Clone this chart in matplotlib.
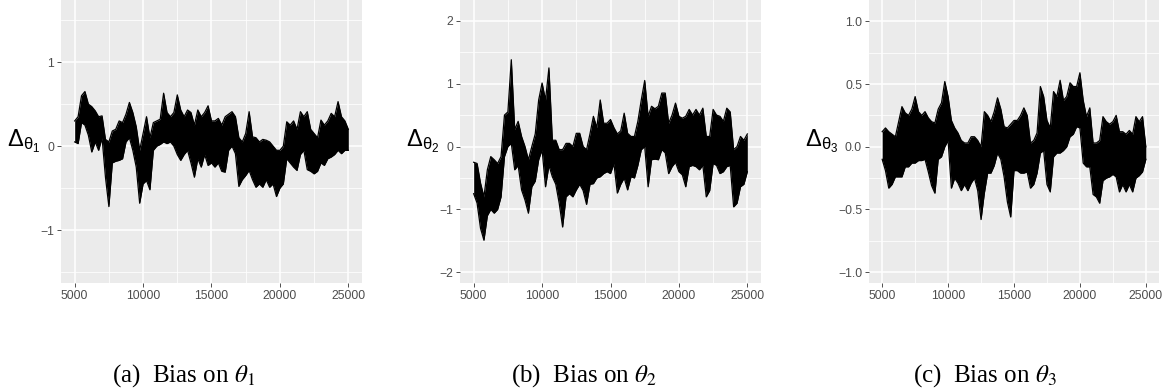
import numpy as np
import matplotlib
matplotlib.use("Agg")
import matplotlib.pyplot as plt

# mathtext: upright sans for the axis labels (like R plotmath)
plt.rcParams["mathtext.fontset"] = "custom"
plt.rcParams["mathtext.rm"] = "Liberation Sans"
plt.rcParams["mathtext.it"] = "Liberation Sans"
plt.rcParams["mathtext.bf"] = "Liberation Sans:bold"
plt.rcParams["font.family"] = ["Liberation Sans", "DejaVu Sans"]

iters = list(range(5000, 25001, 250))

theta1_hi = [
  0.30, 0.35, 0.60, 0.65, 0.50, 0.47, 0.42, 0.35, 0.36, 0.08,
  0.05, 0.18, 0.20, 0.30, 0.28, 0.38, 0.52, 0.40, 0.23, -0.05,
  0.15, 0.35, 0.10, 0.28, 0.30, 0.32, 0.63, 0.40, 0.35, 0.40,
  0.61, 0.43, 0.35, 0.43, 0.40, 0.25, 0.43, 0.35, 0.40, 0.48,
  0.30, 0.30, 0.33, 0.25, 0.35, 0.38, 0.41, 0.35, 0.10, 0.05,
  0.15, 0.41, 0.11, 0.10, 0.05, 0.08, 0.07, 0.05, 0.00, -0.05,
  -0.05, 0.00, 0.29, 0.25, 0.30, 0.20, 0.41, 0.35, 0.41, 0.20,
  0.15, 0.10, 0.31, 0.25, 0.30, 0.39, 0.35, 0.53, 0.35, 0.30,
  0.20,
]
theta1_lo = [
  0.05, 0.03, 0.28, 0.25, 0.13, -0.07, 0.05, -0.05, 0.10, -0.37,
  -0.72, -0.20, -0.18, -0.17, -0.15, 0.05, 0.10, -0.05, -0.25, -0.68,
  -0.45, -0.41, -0.52, -0.05, 0.00, 0.02, 0.05, 0.03, 0.05, 0.00,
  -0.10, -0.17, -0.10, -0.05, -0.20, -0.37, -0.15, -0.25, -0.10, -0.23,
  -0.20, -0.25, -0.20, -0.30, -0.31, -0.05, 0.00, -0.09, -0.48, -0.40,
  -0.35, -0.29, -0.40, -0.49, -0.45, -0.49, -0.40, -0.49, -0.45, -0.60,
  -0.50, -0.45, -0.15, -0.20, -0.25, -0.29, -0.10, -0.05, -0.28, -0.30,
  -0.33, -0.30, -0.20, -0.23, -0.15, -0.13, -0.10, -0.05, -0.09, -0.05,
  -0.05,
]

theta2_hi = [
  -0.25, -0.27, -0.58, -0.80, -0.37, -0.16, -0.21, -0.27, -0.16, 0.50,
  0.55, 1.38, 0.27, 0.40, 0.16, 0.00, -0.21, 0.00, 0.20, 0.74,
  1.01, 0.74, 1.25, 0.10, 0.10, -0.05, -0.05, 0.05, 0.05, 0.00,
  0.21, 0.21, 0.00, -0.05, 0.20, 0.48, 0.30, 0.74, 0.37, 0.37,
  0.43, 0.30, 0.20, 0.25, 0.53, 0.21, 0.16, 0.16, 0.40, 0.74,
  1.05, 0.48, 0.64, 0.60, 0.64, 0.85, 0.85, 0.37, 0.50, 0.69,
  0.48, 0.45, 0.48, 0.59, 0.50, 0.59, 0.50, 0.61, 0.16, 0.16,
  0.59, 0.50, 0.48, 0.40, 0.61, 0.55, -0.05, 0.00, 0.16, 0.10,
  0.20,
]
theta2_lo = [
  -0.75, -0.90, -1.30, -1.49, -1.10, -1.00, -1.06, -1.00, -0.80, -0.16,
  0.00, 0.05, -0.37, -0.30, -0.69, -0.85, -1.06, -0.64, -0.55, -0.21,
  -0.05, -0.64, -0.30, -0.48, -0.60, -0.90, -1.28, -0.80, -0.75, -0.80,
  -0.69, -0.60, -0.70, -0.92, -0.60, -0.59, -0.50, -0.48, -0.43, -0.40,
  -0.43, -0.27, -0.74, -0.60, -0.50, -0.69, -0.48, -0.50, -0.30, -0.05,
  0.00, -0.64, -0.21, -0.20, -0.21, -0.05, -0.10, -0.43, -0.32, -0.25,
  -0.40, -0.45, -0.64, -0.32, -0.30, -0.32, -0.37, -0.30, -0.80, -0.70,
  -0.27, -0.30, -0.43, -0.40, -0.32, -0.30, -0.96, -0.90, -0.64, -0.60,
  -0.40,
]

theta3_hi = [
  0.12, 0.15, 0.12, 0.10, 0.08, 0.20, 0.32, 0.27, 0.25, 0.30,
  0.40, 0.28, 0.25, 0.28, 0.23, 0.20, 0.19, 0.30, 0.35, 0.52,
  0.40, 0.21, 0.15, 0.11, 0.05, 0.03, 0.03, 0.08, 0.08, 0.05,
  0.00, 0.28, 0.25, 0.20, 0.28, 0.39, 0.30, 0.16, 0.15, 0.18,
  0.21, 0.21, 0.25, 0.31, 0.25, 0.03, 0.05, 0.11, 0.48, 0.40,
  0.21, 0.15, 0.44, 0.40, 0.53, 0.37, 0.40, 0.51, 0.48, 0.48,
  0.59, 0.37, 0.24, 0.31, 0.03, 0.03, 0.05, 0.24, 0.20, 0.18,
  0.20, 0.25, 0.12, 0.12, 0.10, 0.13, 0.10, 0.24, 0.20, 0.24,
  0.00,
]
theta3_lo = [
  -0.10, -0.19, -0.33, -0.30, -0.24, -0.24, -0.24, -0.16, -0.16, -0.13,
  -0.13, -0.11, -0.11, -0.10, -0.20, -0.31, -0.37, -0.10, -0.08, 0.00,
  0.05, -0.33, -0.25, -0.29, -0.35, -0.30, -0.35, -0.29, -0.25, -0.35,
  -0.58, -0.37, -0.21, -0.21, -0.15, -0.05, -0.10, -0.24, -0.44, -0.56,
  -0.19, -0.19, -0.21, -0.21, -0.20, -0.33, -0.30, -0.21, -0.05, -0.03,
  -0.30, -0.36, -0.08, -0.05, -0.05, -0.03, 0.00, 0.08, 0.10, 0.16,
  0.15, -0.13, -0.16, -0.16, -0.38, -0.40, -0.45, -0.27, -0.25, -0.24,
  -0.22, -0.24, -0.36, -0.30, -0.36, -0.30, -0.36, -0.25, -0.23, -0.20,
  -0.10,
]

highs = [theta1_hi, theta2_hi, theta3_hi]
lows = [theta1_lo, theta2_lo, theta3_lo]
ylabels = [r"$\Delta_{\theta_1}$", r"$\Delta_{\theta_2}$", r"$\Delta_{\theta_3}$"]
captions = [r"(a)  Bias on $\theta_1$", r"(b)  Bias on $\theta_2$", r"(c)  Bias on $\theta_3$"]
ylims = [(-1.63, 1.74), (-2.17, 2.33), (-1.086, 1.17)]
yticks = [[-1, 0, 1], [-2, -1, 0, 1, 2], [-1.0, -0.5, 0.0, 0.5, 1.0]]
yminor = [[-1.5, -0.5, 0.5, 1.5], [-1.5, -0.5, 0.5, 1.5], [-0.75, -0.25, 0.25, 0.75]]
ytick_fmt = ["{:g}", "{:g}", "{:.1f}"]
xticks = [5000, 10000, 15000, 20000, 25000]
xminor = [7500, 12500, 17500, 22500]

W, H = 1167, 389
fig = plt.figure(figsize=(W / 100, H / 100), dpi=100)

# axes boxes in pixels: left, right
boxes = [(61, 362), (460, 761), (869, 1159)]
label_x = [-0.126, -0.123, -0.162]
cap_x = [184, 584, 985]

for i in range(3):
  l, r = boxes[i]
  ax = fig.add_axes([l / W, (H - 283) / H, (r - l) / W, 283 / H])
  ax.set_facecolor("#EBEBEB")
  for s in ax.spines.values():
    s.set_visible(False)
  ax.set_xlim(4000, 26000)
  ax.set_ylim(*ylims[i])
  ax.set_xticks(xticks)
  ax.set_xticks(xminor, minor=True)
  ax.set_yticks(yticks[i])
  ax.set_yticklabels([ytick_fmt[i].format(v).replace("-", "\u2212") for v in yticks[i]])
  ax.set_yticks(yminor[i], minor=True)
  ax.grid(which="major", color="white", lw=1.1)
  ax.grid(which="minor", color="white", lw=0.55)
  ax.set_axisbelow(True)
  ax.tick_params(which="major", length=3, width=0.6, color="#333333",
                 labelsize=8.8, labelcolor="#4D4D4D", pad=2)
  ax.tick_params(which="minor", length=0)

  # dense MCMC trace drawn as its band (upper/lower extent)
  ax.fill_between(iters, lows[i], highs[i], color="black", lw=0)
  ax.plot(iters, highs[i], color="black", lw=0.9)
  ax.plot(iters, lows[i], color="black", lw=0.9)

  ax.set_ylabel(ylabels[i], rotation=0, fontsize=17, va="center", ha="center")
  ax.yaxis.set_label_coords(label_x[i], 0.5)

  fig.text(cap_x[i] / W, (H - 382) / H, captions[i], ha="center", va="baseline",
           fontsize=18, family="Liberation Serif", math_fontfamily="stix")

fig.savefig("out.png", dpi=100)
